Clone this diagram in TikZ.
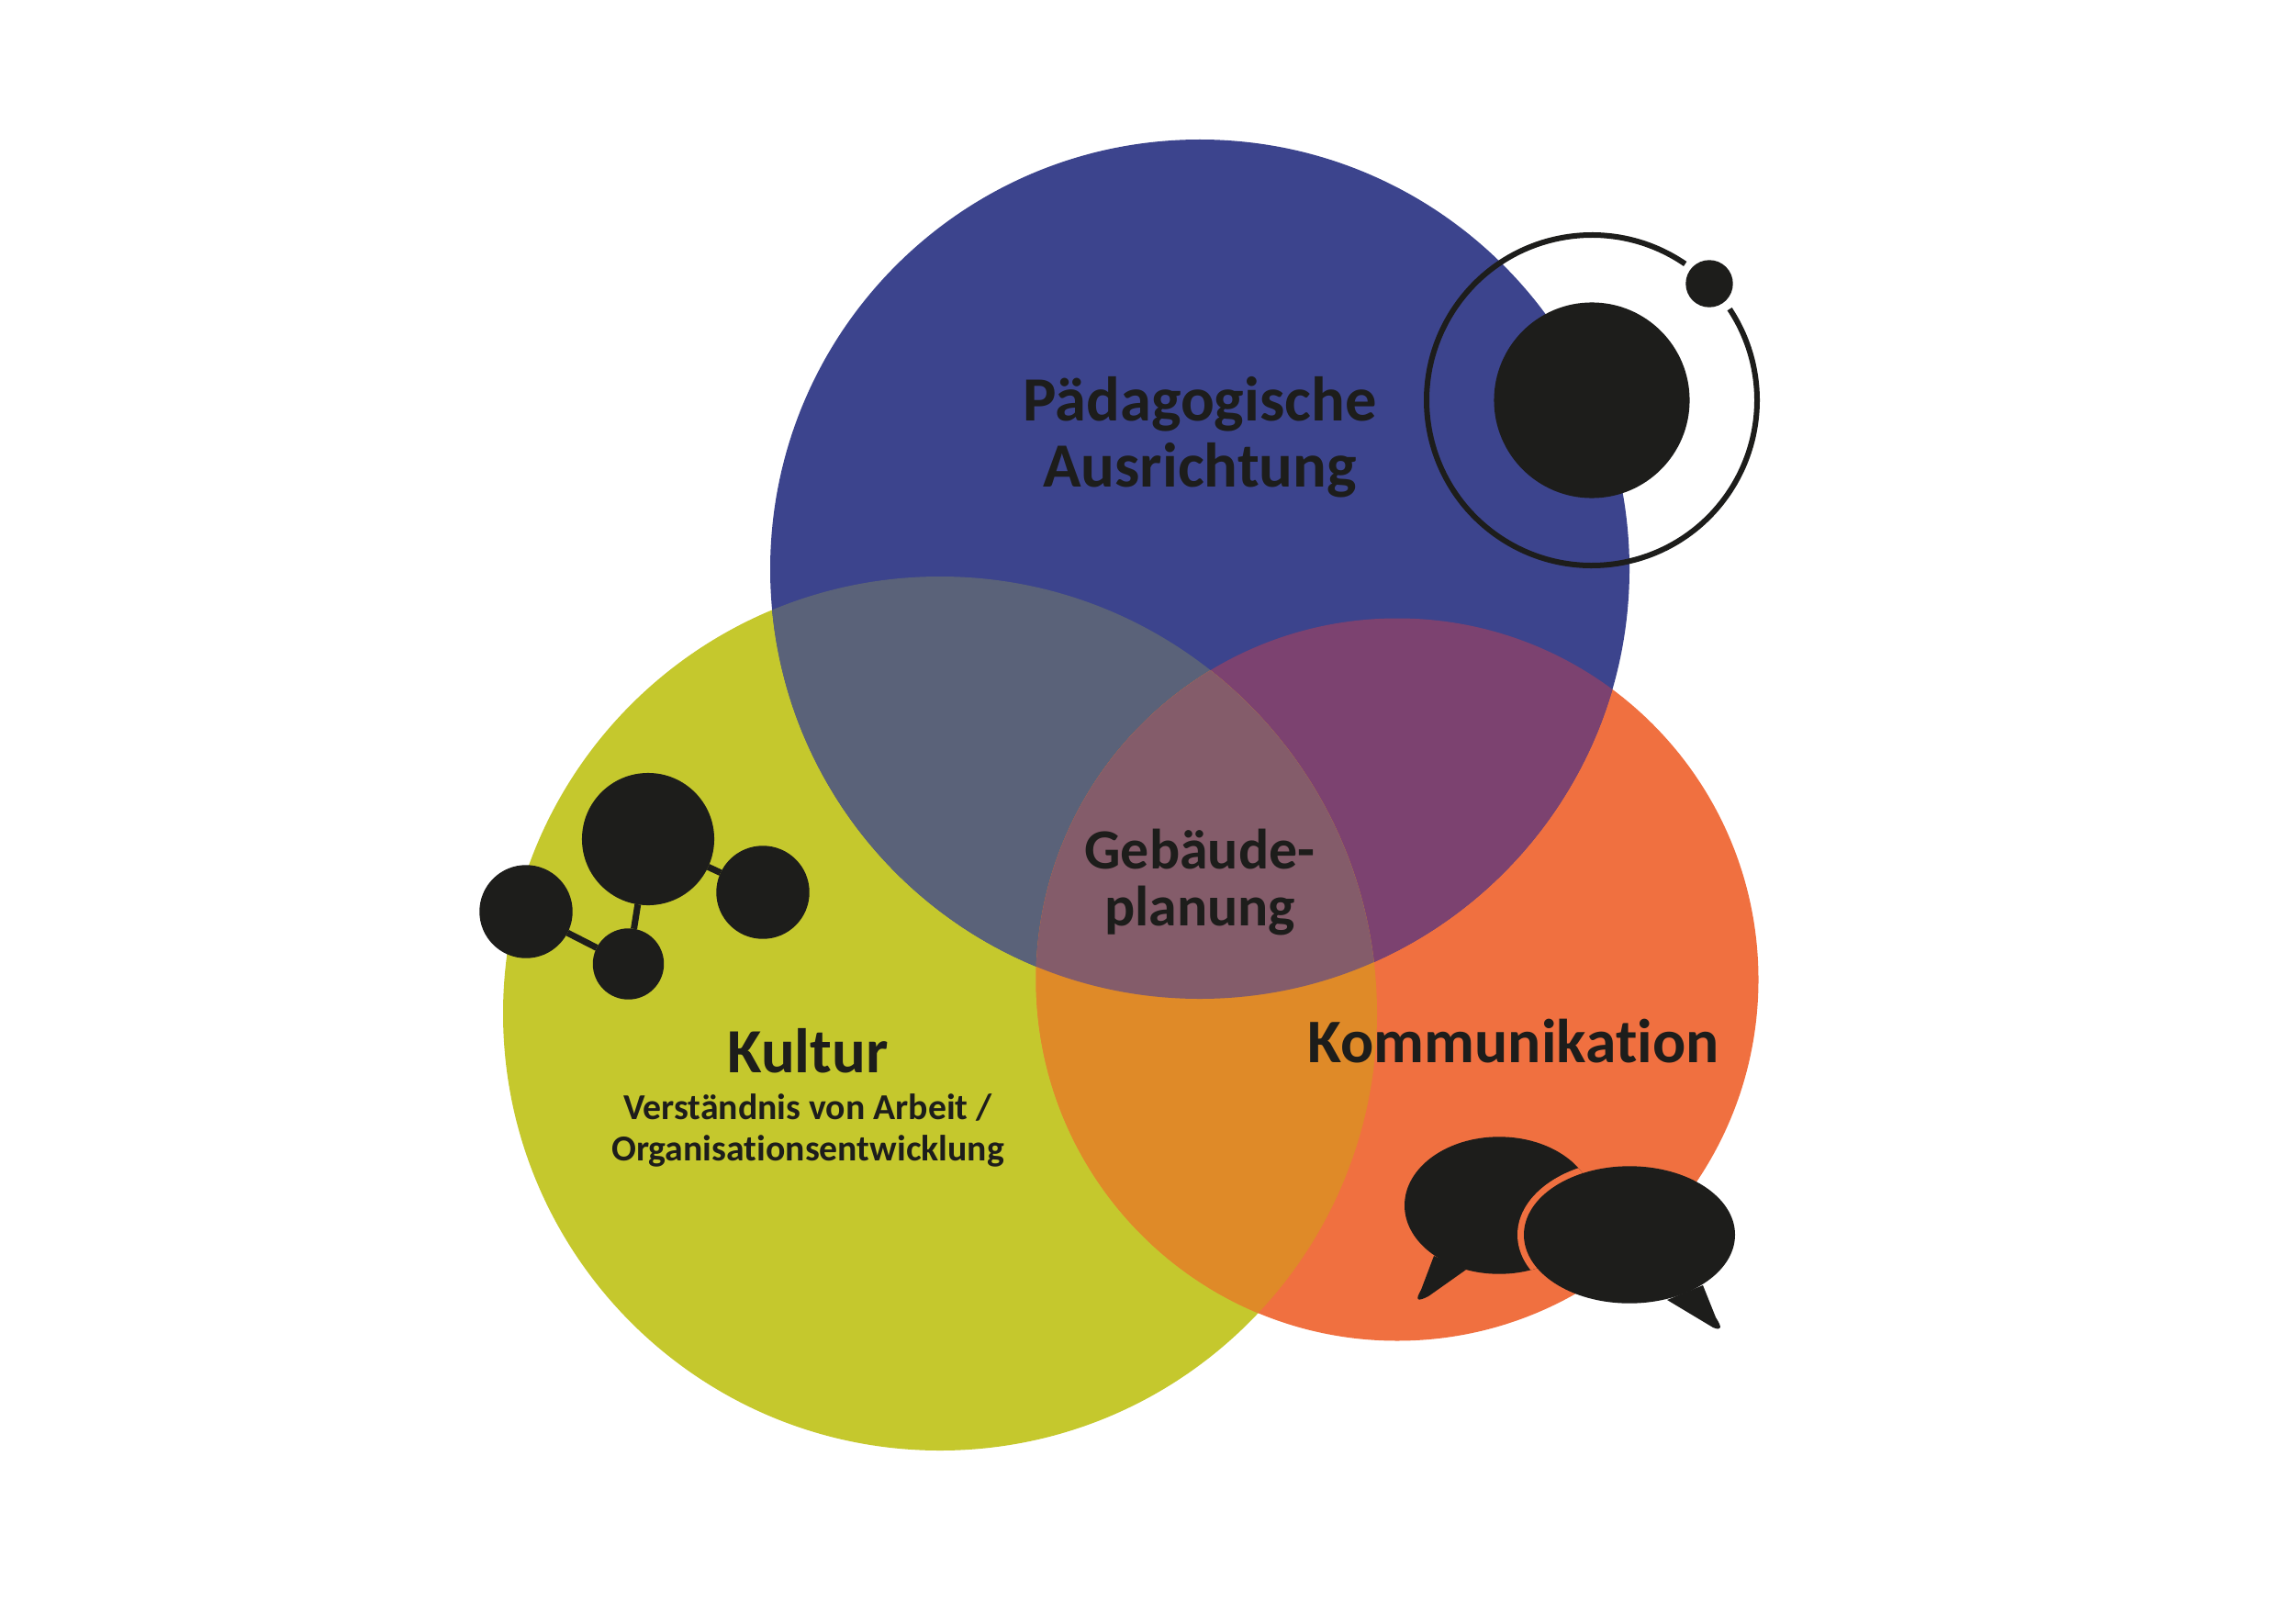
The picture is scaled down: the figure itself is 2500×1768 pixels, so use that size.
\documentclass[tikz,border=0pt]{standalone}
\usepackage{fontspec}
\setmainfont{Carlito}[Ligatures=NoCommon]
\usetikzlibrary{positioning,calc}
\definecolor{paedblue}{HTML}{3C448D}
\definecolor{kultgreen}{HTML}{C5C82D}
\definecolor{kommorange}{HTML}{F07040}
\definecolor{blueyellow}{HTML}{5A6279}
\definecolor{blueorange}{HTML}{7C4270}
\definecolor{yelloworange}{HTML}{DF8A28}
\definecolor{allthree}{HTML}{845C6A}
\definecolor{inkblack}{HTML}{1D1D1B}
\tikzset{
  x=0.01cm, y=0.01cm,
  blob/.style   ={circle, fill=inkblack, inner sep=0pt, outer sep=0pt},
  bond/.style   ={draw=inkblack, line width=0.07cm},
  orbitline/.style={draw=inkblack, line width=0.06cm},
  bigtext/.style={text=inkblack, inner sep=0pt, align=center,
                  font=\fontsize{19.5}{20.4}\selectfont\bfseries},
  midtext/.style={text=inkblack, inner sep=0pt, align=center,
                  font=\fontsize{17.6}{17.6}\selectfont\bfseries},
  smalltext/.style={text=inkblack, inner sep=0pt, align=center,
                  font=\fontsize{11.3}{12.76}\selectfont\bfseries},
}
\def\bluedisc{(1307,1148) circle[radius=468]}
\def\yellowdisc{(1024,664) circle[radius=476]}
\def\orangedisc{(1522,701) circle[radius=393.5]}
\def\leftbubble{(1633,455) ellipse[x radius=103, y radius=74.7]}
\def\rightbubble{(1775,423) ellipse[x radius=115, y radius=74.7]}
\begin{document}
\begin{tikzpicture}
\useasboundingbox (0,0) rectangle (2500,1768);
% the three discs, overlaps filled by hand
\fill[kultgreen] \yellowdisc;
\fill[kommorange] \orangedisc;
\fill[paedblue] \bluedisc;
\begin{scope}
  \clip \bluedisc;
  \fill[blueyellow] \yellowdisc;
  \fill[blueorange] \orangedisc;
\end{scope}
\begin{scope}
  \clip \yellowdisc;
  \fill[yelloworange] \orangedisc;
  \clip \bluedisc;
  \fill[allthree] \orangedisc;
\end{scope}
% orbit
\node[blob, minimum size=2.13cm] (core) at (1734,1332) {};
\node[blob, minimum size=0.514cm] (moon) at (1862,1459) {};
\draw[orbitline] (core) ++(55.6:180) arc[start angle=55.6, end angle=393.5, radius=180];
% molecule
\foreach \n/\x/\y/\s in {big/706/854/1.44, right/831/796/1.014, left/573/775/1.014, small/684.5/718/0.774}
  {\node[blob, minimum size=\s cm] (\n) at (\x,\y) {};}
\foreach \a/\b in {big/right, big/small, left/small}
  {\draw[bond] (\a) -- (\b);}
% speech bubbles
\fill[inkblack] \leftbubble;
\fill[inkblack] (1562,400) -- (1548,363) .. controls (1541,351) and (1544,350) .. (1556,356)
  -- (1597,385) -- cycle;
\begin{scope}
  \clip \leftbubble;
  \fill[kommorange] (1775,423) ellipse[x radius=122, y radius=81.7];
\end{scope}
\fill[inkblack] \rightbubble;
\fill[inkblack] (1855,368) -- (1869,333) .. controls (1876,322) and (1876,318) .. (1866,322)
  -- (1816,352) -- cycle;
% labels
\node[bigtext] (paed) at (1307,1292) {Pädagogische\\Ausrichtung};
\node[midtext] (geb) at (1307,807) {Gebäude-\\planung};
\node[bigtext, anchor=base] (kultur) at (880,600) {Kultur};
\node[smalltext, below=0.22cm of kultur] (sub) {Verständnis von Arbeit /\\Organisationsentwicklung};
\node[bigtext, anchor=base, font=\fontsize{19.2}{20}\selectfont\bfseries] (komm) at (1648.5,611) {Kommunikation};
\end{tikzpicture}
\end{document}
